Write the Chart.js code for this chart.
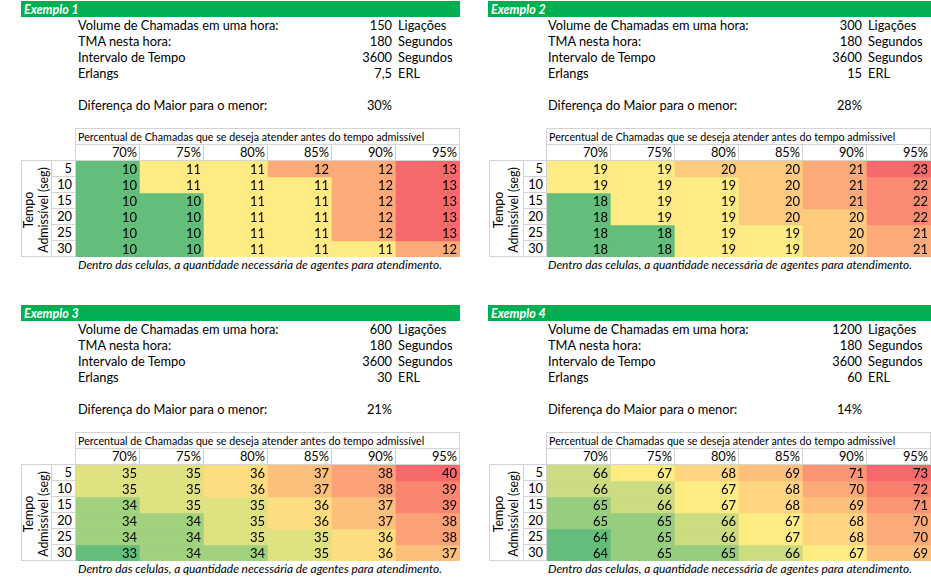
<!DOCTYPE html>
<html>
<head>
<meta charset="utf-8">
<script src="https://cdn.jsdelivr.net/npm/chart.js@4.4.1/dist/chart.umd.min.js"></script>
<style>
  body { margin: 0; width: 931px; height: 577px; background: #fff; position: relative; overflow: hidden;
         font-family: Lato, "Open Sans", sans-serif; font-size: 12.8px; color: #000; }
  .abs { position: absolute; white-space: nowrap; line-height: 16px; }
  .bar { background: #00b050; color: #fff; font-weight: bold; font-style: italic; padding-left: 3px;
         box-sizing: border-box; font-size: 12.5px; line-height: 17px; }
  .cell { border: 1px solid #d4d4d4; box-sizing: border-box; }
  .right { text-align: right; }
  canvas { position: absolute; }
</style>
</head>
<body>
<script>
const percentLabels = ["70%", "75%", "80%", "85%", "90%", "95%"];
const tempoLabels = ["5", "10", "15", "20", "25", "30"];
const titulos = ["Exemplo 1", "Exemplo 2", "Exemplo 3", "Exemplo 4"];
const volumes = ["150", "300", "600", "1200"];
const tmas = ["180", "180", "180", "180"];
const intervalos = ["3600", "3600", "3600", "3600"];
const erlangs = ["7,5", "15", "30", "60"];
const diferencas = ["30%", "28%", "21%", "14%"];

const agentes1 = [
  [10, 11, 11, 12, 12, 13],
  [10, 11, 11, 11, 12, 13],
  [10, 10, 11, 11, 12, 13],
  [10, 10, 11, 11, 12, 13],
  [10, 10, 11, 11, 12, 13],
  [10, 10, 11, 11, 11, 12]
];
const agentes2 = [
  [19, 19, 20, 20, 21, 23],
  [19, 19, 19, 20, 21, 22],
  [18, 19, 19, 20, 21, 22],
  [18, 19, 19, 20, 20, 22],
  [18, 18, 19, 19, 20, 21],
  [18, 18, 19, 19, 20, 21]
];
const agentes3 = [
  [35, 35, 36, 37, 38, 40],
  [35, 35, 36, 37, 38, 39],
  [34, 35, 35, 36, 37, 39],
  [34, 34, 35, 36, 37, 38],
  [34, 34, 35, 35, 36, 38],
  [33, 34, 34, 35, 36, 37]
];
const agentes4 = [
  [66, 67, 68, 69, 71, 73],
  [66, 66, 67, 68, 70, 72],
  [65, 66, 67, 68, 69, 71],
  [65, 65, 66, 67, 68, 70],
  [64, 65, 66, 67, 68, 70],
  [64, 65, 65, 66, 67, 69]
];
const tabelas = [agentes1, agentes2, agentes3, agentes4];

// posicoes de cada bloco (esquerda / direita, cima / baixo)
const lados = [
  { bar: 21, barW: 439, bx: 21, cx: 51, dx: 76, textx: 78, valR: 392, unit: 398 },
  { bar: 488, barW: 443, bx: 489, cx: 523, dx: 547, textx: 548, valR: 862, unit: 868 }
];
const topos = [0, 304];
const CELL_W = 64;
const CELL_H = 16;

function addDiv(cls, x, y, w, h, text, extra) {
  const d = document.createElement("div");
  d.className = "abs " + cls;
  d.style.left = x + "px";
  d.style.top = y + "px";
  if (w != null) d.style.width = w + "px";
  if (h != null) d.style.height = h + "px";
  if (text != null) d.textContent = text;
  if (extra) Object.assign(d.style, extra);
  document.body.appendChild(d);
  return d;
}

// escala de 3 cores do Excel: minimo verde, percentil 50 amarelo, maximo vermelho
function hexToRgb(h) {
  return [parseInt(h.slice(1, 3), 16), parseInt(h.slice(3, 5), 16), parseInt(h.slice(5, 7), 16)];
}
const VERDE = hexToRgb("#63be7b");
const AMARELO = hexToRgb("#ffeb84");
const VERMELHO = hexToRgb("#f8696b");

function mix(a, b, t) {
  return "rgb(" + a.map((v, i) => Math.round(v + (b[i] - v) * t)).join(",") + ")";
}

function colorScale(tabela) {
  const all = tabela.flat().slice().sort((a, b) => a - b);
  const min = all[0];
  const max = all[all.length - 1];
  const pos = (all.length - 1) * 0.5;
  const lo = Math.floor(pos);
  const mid = all[lo] + (all[Math.ceil(pos)] - all[lo]) * (pos - lo);
  return function (v) {
    if (v <= mid) return mid === min ? mix(AMARELO, AMARELO, 0) : mix(VERDE, AMARELO, (v - min) / (mid - min));
    return mix(AMARELO, VERMELHO, (v - mid) / (max - mid));
  };
}

const cellLabels = {
  id: "cellLabels",
  afterDatasetsDraw(chart) {
    const ctx = chart.ctx;
    ctx.save();
    ctx.font = "13px Lato, 'Open Sans', sans-serif";
    ctx.fillStyle = "#000";
    ctx.textAlign = "right";
    ctx.textBaseline = "middle";
    chart.data.datasets.forEach((ds, r) => {
      chart.getDatasetMeta(r).data.forEach((bar, c) => {
        const p = bar.getProps(["x", "y", "base", "width"], true);
        ctx.fillText(String(ds.valores[c]), p.x + p.width / 2 - 3, (p.y + p.base) / 2 + 1);
      });
    });
    ctx.restore();
  }
};

function drawExemplo(i) {
  const L = lados[i % 2];
  const y0 = topos[Math.floor(i / 2)];
  const tabela = tabelas[i];
  const dw = CELL_W * 6;

  addDiv("bar", L.bar, y0 + 1, L.barW, 16, titulos[i]);

  const linhas = [
    ["Volume de Chamadas em uma hora:", volumes[i], "Ligações"],
    ["TMA nesta hora:", tmas[i], "Segundos"],
    ["Intervalo de Tempo", intervalos[i], "Segundos"],
    ["Erlangs", erlangs[i], "ERL"]
  ];
  linhas.forEach((l, k) => {
    const y = y0 + 17 + k * 16;
    addDiv("", L.textx, y, null, 16, l[0]);
    addDiv("right", L.valR - 80, y, 80, 16, l[1]);
    addDiv("", L.unit, y, null, 16, l[2]);
  });
  addDiv("", L.textx, y0 + 97, null, 16, "Diferença do Maior para o menor:");
  addDiv("right", L.valR - 80, y0 + 97, 80, 16, diferencas[i]);

  // cabecalho da tabela
  addDiv("cell", L.dx - 1, y0 + 128, dw + 1, 17, "Percentual de Chamadas que se deseja atender antes do tempo admissível",
    { paddingLeft: "2px", lineHeight: "15px", fontSize: "10.7px" });
  percentLabels.forEach((p, c) => {
    addDiv("cell right", L.dx - 1 + c * CELL_W, y0 + 144, CELL_W + 1, 17, p, { paddingRight: "2px", lineHeight: "15px" });
  });

  // rotulos das linhas
  addDiv("cell", L.bx, y0 + 160, L.cx - L.bx + 1, 97, null);
  tempoLabels.forEach((t, r) => {
    addDiv("cell right", L.cx, y0 + 160 + r * CELL_H, L.dx - L.cx, 17, t, { paddingRight: "3px", lineHeight: "15px" });
  });
  const rot = addDiv("", 0, 0, 96, 30, null, {
    lineHeight: "15px", textAlign: "center", transform: "rotate(-90deg)", fontSize: "12.4px",
    left: (L.bx + (L.cx - L.bx) / 2 - 48) + "px", top: (y0 + 210 - 15) + "px"
  });
  rot.innerHTML = "Tempo<br>Admissível (seg)";

  addDiv("", L.textx, y0 + 257, null, 16, "Dentro das celulas, a quantidade necessária de agentes para atendimento.",
    { fontStyle: "italic", fontSize: "11.9px" });

  // celulas coloridas desenhadas pelo Chart.js
  const canvas = document.createElement("canvas");
  canvas.width = dw;
  canvas.height = CELL_H * 6;
  canvas.style.left = L.dx + "px";
  canvas.style.top = (y0 + 161) + "px";
  document.body.appendChild(canvas);

  const cor = colorScale(tabela);
  new Chart(canvas, {
    type: "bar",
    data: {
      labels: percentLabels,
      datasets: tabela.map((row, r) => ({
        label: tempoLabels[r],
        data: row.map(() => 1),
        valores: row,
        backgroundColor: row.map(cor),
        borderWidth: 0,
        barPercentage: 1,
        categoryPercentage: 1,
        stack: "s"
      }))
    },
    options: {
      responsive: false,
      animation: false,
      layout: { padding: 0 },
      plugins: { legend: { display: false }, tooltip: { enabled: false } },
      scales: {
        x: { display: false, stacked: true },
        y: { display: false, stacked: true, min: 0, max: 6, reverse: true }
      }
    },
    plugins: [cellLabels]
  });
}

for (let i = 0; i < 4; i++) drawExemplo(i);
</script>
</body>
</html>
